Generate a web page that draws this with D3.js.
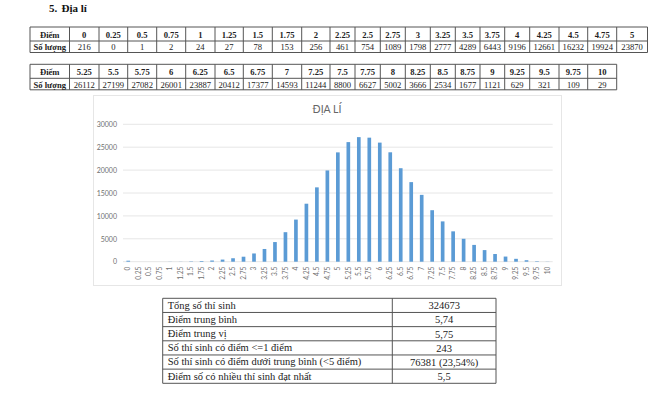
<!DOCTYPE html>
<html>
<head>
<meta charset="utf-8">
<script src="https://cdn.jsdelivr.net/npm/d3@7"></script>
<style>
  html, body { margin: 0; padding: 0; background: #fff; }
  svg { display: block; }
</style>
</head>
<body>
<svg id="chart" width="660" height="408"></svg>
<script>
const scoresTop = ['0', '0.25', '0.5', '0.75', '1', '1.25', '1.5', '1.75', '2', '2.25', '2.5', '2.75', '3', '3.25', '3.5', '3.75', '4', '4.25', '4.5', '4.75', '5'];
const countsTop = [216, 0, 1, 2, 24, 27, 78, 153, 256, 461, 754, 1089, 1798, 2777, 4289, 6443, 9196, 12661, 16232, 19924, 23870];
const scoresBottom = ['5.25', '5.5', '5.75', '6', '6.25', '6.5', '6.75', '7', '7.25', '7.5', '7.75', '8', '8.25', '8.5', '8.75', '9', '9.25', '9.5', '9.75', '10'];
const countsBottom = [26112, 27199, 27082, 26001, 23887, 20412, 17377, 14593, 11244, 8800, 6627, 5002, 3666, 2534, 1677, 1121, 629, 321, 109, 29];
const yTicks = [0, 5000, 10000, 15000, 20000, 25000, 30000];
const summaryLabels = ['Tổng số thí sinh', 'Điểm trung bình', 'Điểm trung vị', 'Số thí sinh có điểm <=1 điểm', 'Số thí sinh có điểm dưới trung bình (<5 điểm)', 'Điểm số có nhiều thí sinh đạt nhất'];
const summaryValues = ['324673', '5,74', '5,75', '243', '76381 (23,54%)', '5,5'];

const svg = d3.select('#chart');
const serif = '"Liberation Serif", serif';
const sans = 'Lato, "Open Sans", sans-serif';

// column edges of the two score tables
const colEdges = [30, 69.5, 99, 127.7, 156.7, 185.7, 215, 243.3, 272.3, 301.7, 330, 355, 380.3, 405.3, 430.3, 455.3, 480, 504.7, 529.7, 559, 587.7, 616.7, 647.5];

const heading = svg.append('g')
  .attr('font-family', serif).attr('font-size', 11).attr('font-weight', 'bold')
  .attr('fill', '#111');
heading.append('text').attr('x', 49).attr('y', 12).text('5.');
heading.append('text').attr('x', 61.5).attr('y', 12).text('Địa lí');

function scoreTable(scores, counts, top) {
  const rows = [top, top + 14, top + 25.5];
  const cols = colEdges.slice(0, scores.length + 2);
  const g = svg.append('g');
  const left = cols[0], right = cols[cols.length - 1];

  g.selectAll('.h').data(rows).join('line')
    .attr('x1', left).attr('x2', right)
    .attr('y1', d => d).attr('y2', d => d)
    .attr('stroke', '#555').attr('stroke-width', 1);
  g.selectAll('.v').data(cols).join('line')
    .attr('class', 'v')
    .attr('x1', d => d).attr('x2', d => d)
    .attr('y1', rows[0]).attr('y2', rows[2])
    .attr('stroke', '#555').attr('stroke-width', 1);

  const cells = [
    { texts: ['Điểm'].concat(scores), y: rows[0] + 10.5, bold: true },
    { texts: ['Số lượng'].concat(counts), y: rows[1] + 9.2, bold: false }
  ];
  cells.forEach(row => {
    g.selectAll(null).data(row.texts).join('text')
      .attr('x', (d, i) => (cols[i] + cols[i + 1]) / 2)
      .attr('y', row.y)
      .attr('text-anchor', 'middle')
      .attr('font-family', serif)
      .attr('font-size', 8.6)
      .attr('font-weight', (d, i) => (row.bold || i === 0) ? 'bold' : 'normal')
      .attr('fill', '#222')
      .text(d => d);
  });
}

scoreTable(scoresTop, countsTop, 27);
scoreTable(scoresBottom, countsBottom, 64.3);

// bar chart
const scores = scoresTop.concat(scoresBottom);
const counts = countsTop.concat(countsBottom);

svg.append('rect')
  .attr('x', 93.5).attr('y', 95.5).attr('width', 468).attr('height', 190)
  .attr('fill', '#fff').attr('stroke', '#e6e6e6');

const x = d3.scaleBand().domain(scores).range([123, 552.7]).paddingInner(0.65).paddingOuter(0.325);
const y = d3.scaleLinear().domain([0, 30000]).range([261.7, 124.3]);

svg.append('g')
  .selectAll('line').data(yTicks).join('line')
  .attr('x1', 123).attr('x2', 552.7)
  .attr('y1', d => y(d)).attr('y2', d => y(d))
  .attr('stroke', '#e6e6e6');

const yAxis = svg.append('g')
  .attr('transform', 'translate(123,0)')
  .call(d3.axisLeft(y).tickValues(yTicks).tickSize(0).tickPadding(6).tickFormat(d3.format('d')));
yAxis.select('.domain').remove();
yAxis.selectAll('text').attr('font-family', sans).attr('font-size', 7).attr('fill', '#707070');

svg.append('g')
  .selectAll('rect').data(counts).join('rect')
  .attr('x', (d, i) => x(scores[i]))
  .attr('y', d => y(d))
  .attr('width', x.bandwidth())
  .attr('height', d => y(0) - y(d))
  .attr('fill', '#5b9bd5');

const xAxis = svg.append('g')
  .attr('transform', 'translate(0,261.7)')
  .call(d3.axisBottom(x).tickSize(0).tickPadding(0));
xAxis.select('.domain').remove();
xAxis.selectAll('text')
  .attr('font-family', sans).attr('font-size', 6.6).attr('fill', '#707070')
  .attr('text-anchor', 'end')
  .attr('dy', 0)
  .attr('transform', 'translate(2.2,5) rotate(-90)')
  .attr('x', 0).attr('y', 0);

svg.append('text')
  .attr('x', 327).attr('y', 113)
  .attr('text-anchor', 'middle')
  .attr('font-family', sans).attr('font-size', 10.5).attr('fill', '#666')
  .text('ĐỊA LÍ');

// summary table
const sumCols = [162.7, 392.3, 496];
const sumRows = d3.scaleLinear().domain([0, summaryLabels.length]).range([298.3, 383.3]);
const sumG = svg.append('g');

sumG.selectAll('.h').data(d3.range(summaryLabels.length + 1)).join('line')
  .attr('x1', sumCols[0]).attr('x2', sumCols[2])
  .attr('y1', d => sumRows(d)).attr('y2', d => sumRows(d))
  .attr('stroke', '#555');
sumG.selectAll('.v').data(sumCols).join('line')
  .attr('class', 'v')
  .attr('x1', d => d).attr('x2', d => d)
  .attr('y1', sumRows(0)).attr('y2', sumRows(summaryLabels.length))
  .attr('stroke', '#555');
sumG.selectAll('.lab').data(summaryLabels).join('text')
  .attr('class', 'lab')
  .attr('x', sumCols[0] + 5)
  .attr('y', (d, i) => sumRows(i) + 10.5)
  .attr('font-family', serif).attr('font-size', 10.5).attr('fill', '#222')
  .text(d => d);
sumG.selectAll('.val').data(summaryValues).join('text')
  .attr('class', 'val')
  .attr('x', (sumCols[1] + sumCols[2]) / 2)
  .attr('y', (d, i) => sumRows(i) + 11)
  .attr('text-anchor', 'middle')
  .attr('font-family', serif).attr('font-size', 10.5).attr('fill', '#222')
  .text(d => d);
</script>
</body>
</html>
